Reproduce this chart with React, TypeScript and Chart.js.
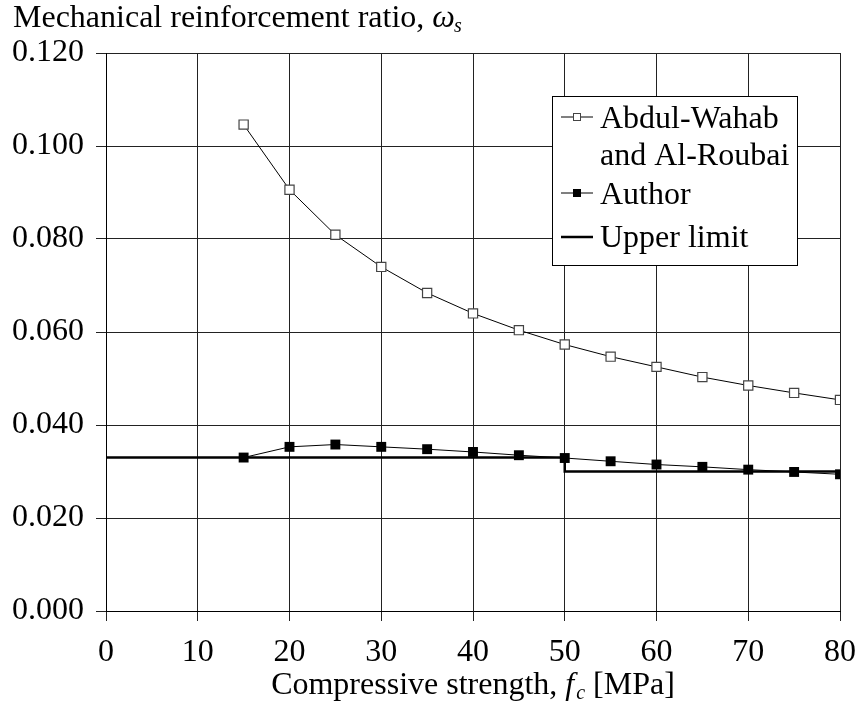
import React, { useEffect, useRef } from "react";
import { Chart, registerables } from "chart.js";

Chart.register(...registerables);

const strengthAW = [15, 20, 25, 30, 35, 40, 45, 50, 55, 60, 65, 70, 75, 80];
const ratioAW = [0.1046, 0.0906, 0.0809, 0.074, 0.0684, 0.064, 0.0604, 0.0573, 0.0547, 0.0525, 0.0503, 0.0485, 0.0469, 0.0454];
const strengthAuthor = [15, 20, 25, 30, 35, 40, 45, 50, 55, 60, 65, 70, 75, 80];
const ratioAuthor = [0.033, 0.0353, 0.0358, 0.0353, 0.0348, 0.0342, 0.0335, 0.0329, 0.0322, 0.0315, 0.031, 0.0304, 0.0299, 0.0294];
const strengthLimit = [0, 50, 50, 80];
const ratioLimit = [0.033, 0.033, 0.030, 0.030];
const xTicksMinMax = [0, 80, 10];
const yTicksMinMax = [0, 0.12, 0.02];
const legendLabels = [["Abdul-Wahab", "and Al-Roubai"], ["Author"], ["Upper limit"]];

const SERIF = "'Liberation Serif', 'Times New Roman', serif";

const titlesPlugin = {
  id: "customTitles",
  afterDraw(chart: any) {
    const ctx = chart.ctx as CanvasRenderingContext2D;
    const area = chart.chartArea;
    ctx.save();
    ctx.fillStyle = "#000";
    ctx.textBaseline = "alphabetic";
    ctx.textAlign = "left";
    let x = 13;
    const yb = 27;
    ctx.font = `32px ${SERIF}`;
    const t1 = "Mechanical reinforcement ratio, ";
    ctx.fillText(t1, x, yb);
    x += ctx.measureText(t1).width;
    ctx.font = `italic 32px ${SERIF}`;
    ctx.fillText("\u03c9", x, yb);
    x += ctx.measureText("\u03c9").width - 1;
    ctx.font = `italic 20px ${SERIF}`;
    ctx.fillText("s", x, yb + 5);

    const p1 = "Compressive strength, ";
    const p2 = "f";
    const p3 = "c";
    const p4 = " [MPa]";
    ctx.font = `32px ${SERIF}`;
    const w1 = ctx.measureText(p1).width;
    const w4 = ctx.measureText(p4).width;
    ctx.font = `italic 32px ${SERIF}`;
    const w2 = ctx.measureText(p2).width;
    ctx.font = `italic 20px ${SERIF}`;
    const w3 = ctx.measureText(p3).width;
    const total = w1 + w2 + w3 + w4 + 2;
    let xx = (area.left + area.right) / 2 - total / 2;
    const xb = 694;
    ctx.font = `32px ${SERIF}`;
    ctx.fillText(p1, xx, xb);
    xx += w1;
    ctx.font = `italic 32px ${SERIF}`;
    ctx.fillText(p2, xx, xb);
    xx += w2 + 2;
    ctx.font = `italic 20px ${SERIF}`;
    ctx.fillText(p3, xx, xb + 5);
    xx += w3;
    ctx.font = `32px ${SERIF}`;
    ctx.fillText(p4, xx, xb);
    ctx.restore();
  },
};

const legendPlugin = {
  id: "customLegend",
  afterDraw(chart: any) {
    const ctx = chart.ctx as CanvasRenderingContext2D;
    ctx.save();
    const bx = 552.5, by = 96.5, bw = 245, bh = 169;
    ctx.fillStyle = "#fff";
    ctx.fillRect(bx, by, bw, bh);
    ctx.strokeStyle = "#000";
    ctx.lineWidth = 1;
    ctx.strokeRect(bx, by, bw, bh);

    const lx1 = 561, lx2 = 593, mx = 577, tx = 600;
    ctx.font = `32px ${SERIF}`;
    ctx.fillStyle = "#000";
    ctx.textBaseline = "middle";
    ctx.textAlign = "left";

    let y = 117;
    ctx.strokeStyle = "#000";
    ctx.lineWidth = 1;
    ctx.beginPath();
    ctx.moveTo(lx1, y);
    ctx.lineTo(lx2, y);
    ctx.stroke();
    ctx.fillStyle = "#fff";
    ctx.fillRect(mx - 3.5, y - 3.5, 7, 7);
    ctx.strokeStyle = "#444";
    ctx.strokeRect(mx - 3.5, y - 3.5, 7, 7);
    ctx.fillStyle = "#000";
    ctx.fillText(legendLabels[0][0], tx, 120);
    ctx.fillText(legendLabels[0][1], tx, 157);

    y = 193;
    ctx.strokeStyle = "#000";
    ctx.beginPath();
    ctx.moveTo(lx1, y);
    ctx.lineTo(lx2, y);
    ctx.stroke();
    ctx.fillRect(mx - 4, y - 4, 8, 8);
    ctx.fillText(legendLabels[1][0], tx, 196);

    y = 237;
    ctx.lineWidth = 2.5;
    ctx.beginPath();
    ctx.moveTo(lx1, y);
    ctx.lineTo(lx2, y);
    ctx.stroke();
    ctx.fillText(legendLabels[2][0], tx, 239);
    ctx.restore();
  },
};

export default function App() {
  const canvasRef = useRef<HTMLCanvasElement | null>(null);

  useEffect(() => {
    if (!canvasRef.current) return;
    const chart = new Chart(canvasRef.current, {
      type: "line",
      data: {
        datasets: [
          {
            label: "Abdul-Wahab and Al-Roubai",
            data: strengthAW.map((x, i) => ({ x, y: ratioAW[i] })),
            borderColor: "#000",
            borderWidth: 1,
            pointStyle: "rect",
            pointRadius: 6.5,
            pointBackgroundColor: "#fff",
            pointBorderColor: "#444",
            pointBorderWidth: 1.2,
            tension: 0,
          },
          {
            label: "Author",
            data: strengthAuthor.map((x, i) => ({ x, y: ratioAuthor[i] })),
            borderColor: "#000",
            borderWidth: 1,
            pointStyle: "rect",
            pointRadius: 7,
            pointBackgroundColor: "#000",
            pointBorderColor: "#000",
            pointBorderWidth: 0,
            tension: 0,
          },
          {
            label: "Upper limit",
            data: strengthLimit.map((x, i) => ({ x, y: ratioLimit[i] })),
            borderColor: "#000",
            borderWidth: 2.5,
            pointRadius: 0,
            tension: 0,
          },
        ],
      },
      options: {
        animation: false,
        responsive: true,
        maintainAspectRatio: false,
        layout: { padding: { top: 53, right: 20, left: 0, bottom: 0 } },
        plugins: {
          legend: { display: false },
          tooltip: { enabled: false },
          title: { display: false },
        },
        scales: {
          x: {
            type: "linear",
            min: xTicksMinMax[0],
            max: xTicksMinMax[1],
            ticks: {
              stepSize: xTicksMinMax[2],
              color: "#000",
              font: { family: SERIF, size: 32 },
              padding: 12,
              maxRotation: 0,
            },
            grid: { color: "#222", lineWidth: 1, tickLength: 10, drawTicks: true },
            border: { display: true, color: "#000", width: 1 },
            afterFit: (scale: any) => {
              scale.height = 108;
              scale.paddingRight = 0;
              scale.paddingLeft = 0;
            },
          },
          y: {
            type: "linear",
            min: yTicksMinMax[0],
            max: yTicksMinMax[1],
            ticks: {
              stepSize: yTicksMinMax[2],
              color: "#000",
              font: { family: SERIF, size: 32 },
              padding: 12,
              callback: (v: any) => Number(v).toFixed(3),
            },
            grid: { color: "#222", lineWidth: 1, tickLength: 10, drawTicks: true },
            border: { display: true, color: "#000", width: 1 },
            afterFit: (scale: any) => {
              scale.width = 106;
              scale.paddingTop = 0;
              scale.paddingBottom = 0;
            },
          },
        },
      },
      plugins: [titlesPlugin, legendPlugin],
    });
    return () => chart.destroy();
  }, []);

  return (
    <div style={{ position: "absolute", left: 0, top: 0, width: 860, height: 719, background: "#fff" }}>
      <canvas ref={canvasRef} />
    </div>
  );
}
